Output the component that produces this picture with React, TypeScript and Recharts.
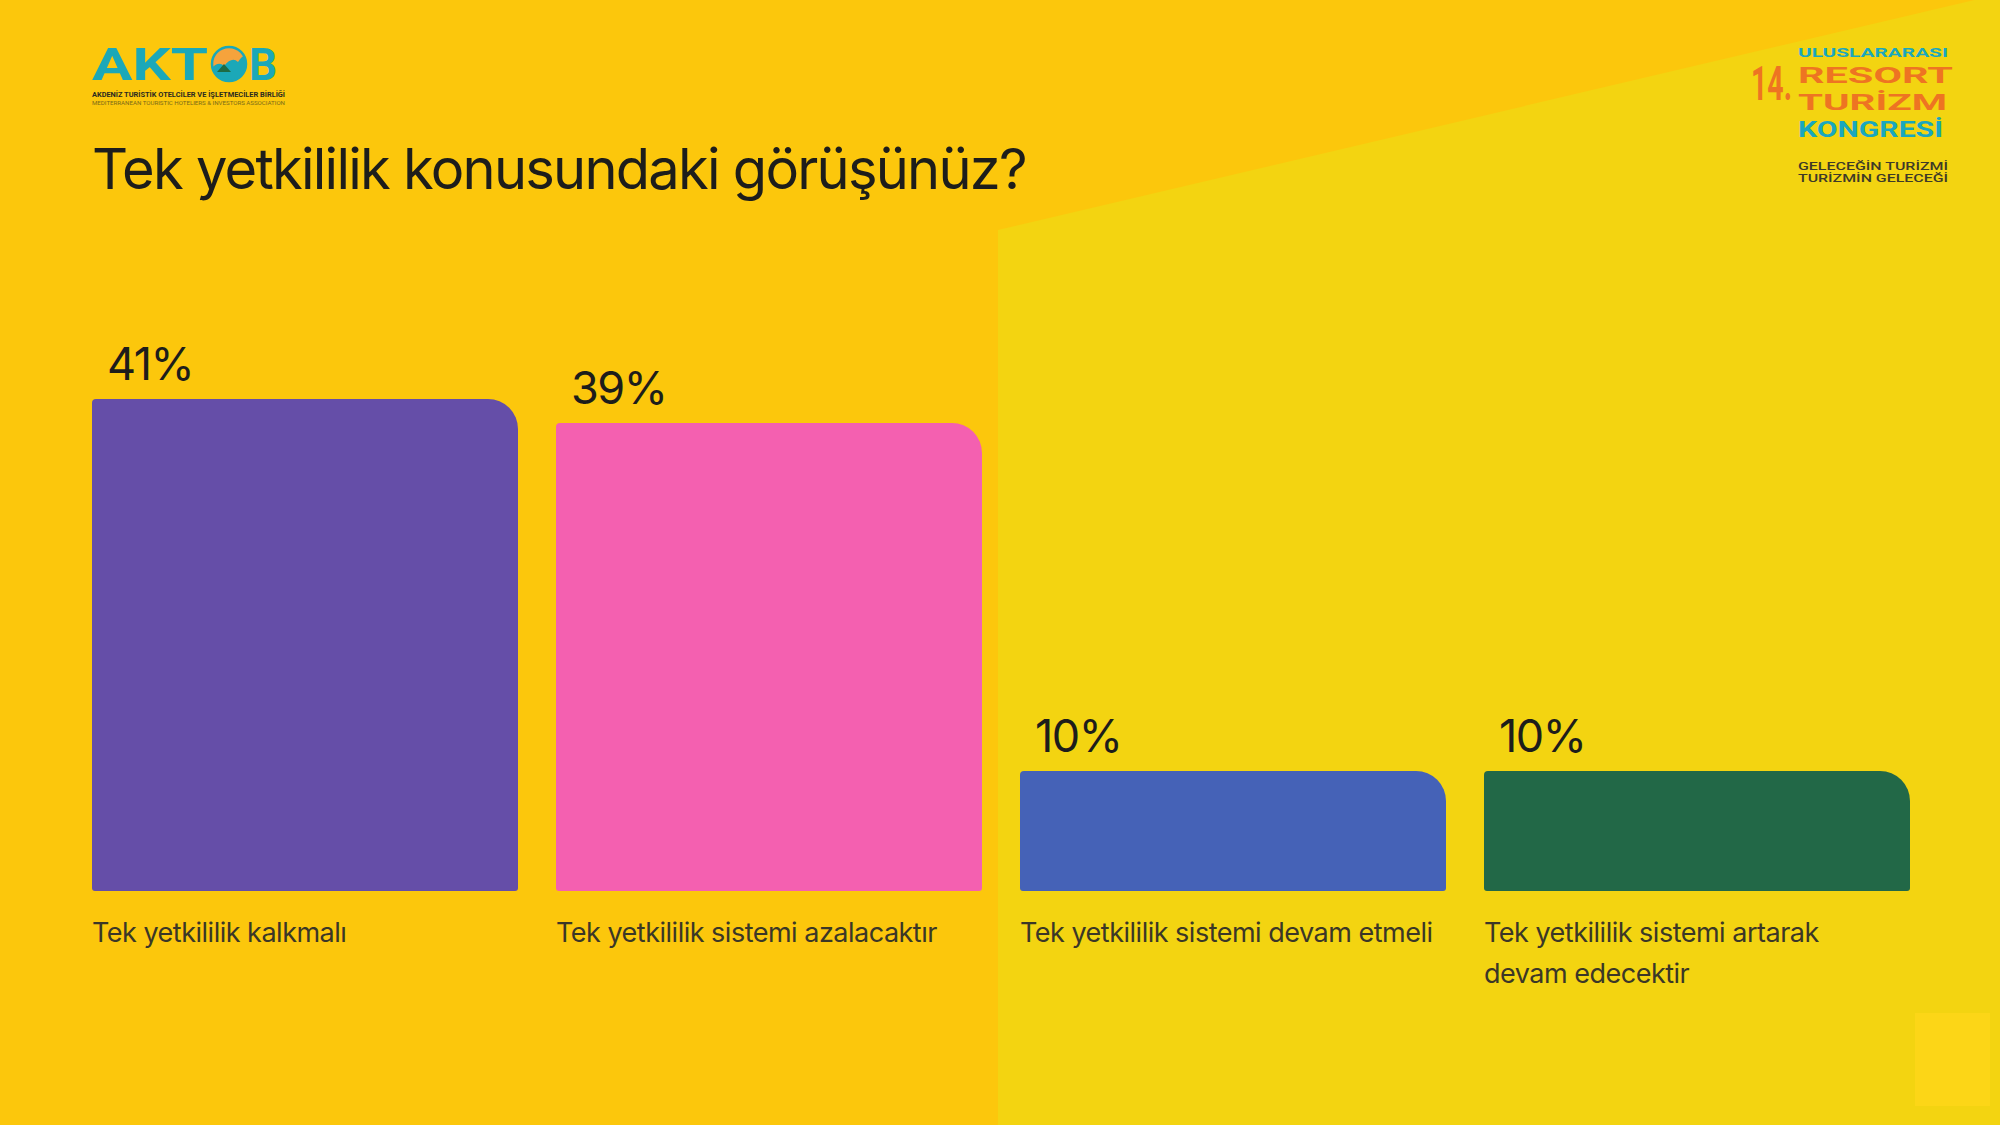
import React from "react";
import { BarChart, Bar, XAxis, YAxis, Cell, LabelList } from "recharts";

const categories = [
  "Tek yetkililik kalkmalı",
  "Tek yetkililik sistemi azalacaktır",
  "Tek yetkililik sistemi devam etmeli",
  "Tek yetkililik sistemi artarak devam edecektir",
];
const percentValues = [41, 39, 10, 10];
const barColors = ["#654EA8", "#F460B0", "#4562B7", "#226847"];
const titleText = "Tek yetkililik konusundaki görüşünüz?";

const data = categories.map((name, i) => ({ name, value: percentValues[i] }));

const W = 2000;
const H = 1125;
const BAR_SIZE = 426;
const FONT = "Inter, 'Noto Sans', sans-serif";
const LOGO_FONT = "Roboto, sans-serif";

function wrapWords(text: string, maxChars: number): string[] {
  const words = text.split(" ");
  const lines: string[] = [];
  let cur = "";
  for (const w of words) {
    const next = cur ? cur + " " + w : w;
    if (next.length > maxChars && cur) {
      lines.push(cur);
      cur = w;
    } else {
      cur = next;
    }
  }
  if (cur) lines.push(cur);
  return lines;
}

const CategoryTick = (props: any) => {
  const { x, y, payload } = props;
  const lines = wrapWords(String(payload.value), 35);
  return (
    <g>
      {lines.map((ln, i) => (
        <text
          key={i}
          x={x - BAR_SIZE / 2}
          y={y + 43 + i * 41}
          fill="#3b3727"
          fontFamily={FONT}
          fontSize={27}
          letterSpacing={-0.5}
          textAnchor="start"
        >
          {ln}
        </text>
      ))}
    </g>
  );
};

const PercentLabel = (props: any) => {
  const { x, y, value } = props;
  return (
    <text
      x={Number(x) + 15}
      y={Number(y) - 19}
      fill="#1d1d1b"
      fontFamily={FONT}
      fontSize={45}
      letterSpacing={-1.5}
      textAnchor="start"
    >
      {value}%
    </text>
  );
};

const Decor = () => (
  <svg width={W} height={H} style={{ position: "absolute", left: 0, top: 0 }}>
    <rect x={0} y={0} width={W} height={H} fill="#FCC70C" />
    <polygon points="998,230 2000,-6 2000,1125 998,1125" fill="#F3D411" />
    <rect x={1915} y={1013} width={75} height={93} fill="#FCD617" />
    {/* AKTOB logo */}
    <clipPath id="oclip">
      <circle cx={229} cy={64} r={17} />
    </clipPath>
    <circle cx={229} cy={64} r={17} fill="#F6A33C" />
    <path d="M210,70 Q218,60 224,66 Q232,56 238,62 Q243,54 248,56 L248,90 L210,90 Z" fill="#1BA8B8" clipPath="url(#oclip)" />
    <path d="M217,72 L224,64 L231,72 Z" fill="#1E6B45" clipPath="url(#oclip)" />
    <circle cx={229} cy={64} r={17} fill="none" stroke="#1BA8B8" strokeWidth={2.5} />
    <text fontFamily={LOGO_FONT} fontWeight={700}>
      <tspan x={92} y={80} fontSize={44} fill="#1BA8B8" textLength={116} lengthAdjust="spacingAndGlyphs">AKT</tspan>
      <tspan x={249} y={80} fontSize={44} fill="#1BA8B8">B</tspan>
      <tspan x={92} y={96.5} fontSize={7} fill="#2b2a20" textLength={193} lengthAdjust="spacingAndGlyphs">AKDENİZ TURİSTİK OTELCİLER VE İŞLETMECİLER BİRLİĞİ</tspan>
      <tspan x={92} y={104.5} fontSize={6} fontWeight={400} fill="#7a6a1a" textLength={193} lengthAdjust="spacingAndGlyphs">MEDITERRANEAN TOURISTIC HOTELIERS &amp; INVESTORS ASSOCIATION</tspan>
    </text>
    {/* Congress logo */}
    <text
      transform="translate(1751,100) scale(1,1.5)"
      x={0}
      y={0}
      fontFamily={LOGO_FONT}
      fontWeight={700}
      fontSize={32}
      fill="#EE7422"
      textLength={41}
      lengthAdjust="spacingAndGlyphs"
    >
      14.
    </text>
    <text fontFamily={LOGO_FONT} fontWeight={700}>
      <tspan x={1798} y={57} fontSize={12} fill="#1AA7BE" textLength={150} lengthAdjust="spacingAndGlyphs">ULUSLARARASI</tspan>
      <tspan x={1798} y={82.5} fontSize={22.5} fill="#EE7422" textLength={155} lengthAdjust="spacingAndGlyphs">RESORT</tspan>
      <tspan x={1798} y={109.5} fontSize={22.5} fill="#EE7422" textLength={149} lengthAdjust="spacingAndGlyphs">TURİZM</tspan>
      <tspan x={1798} y={136.5} fontSize={22} fill="#1AA7BE" textLength={145} lengthAdjust="spacingAndGlyphs">KONGRESİ</tspan>
      <tspan x={1798} y={169.5} fontSize={10} fontWeight={500} fill="#3e3a28" textLength={150} lengthAdjust="spacingAndGlyphs">GELECEĞİN TURİZMİ</tspan>
      <tspan x={1798} y={181.5} fontSize={10} fontWeight={500} fill="#3e3a28" textLength={150} lengthAdjust="spacingAndGlyphs">TURİZMİN GELECEĞİ</tspan>
    </text>
    {/* Title */}
    <text x={92} y={189} fontFamily={FONT} fontSize={56} fill="#1d1d1b" letterSpacing={-1.75}>{titleText}</text>
  </svg>
);

export default function App() {
  return (
    <div style={{ position: "absolute", left: 0, top: 0, width: W, height: H, overflow: "hidden" }}>
      <Decor />
      <div style={{ position: "absolute", left: 0, top: 0 }}>
        <BarChart
          width={W}
          height={H}
          data={data}
          margin={{ top: 291, right: 71, bottom: 134, left: 73 }}
        >
          <XAxis
            dataKey="name"
            axisLine={false}
            tickLine={false}
            interval={0}
            height={100}
            tick={<CategoryTick />}
          />
          <YAxis hide domain={[0, 50]} />
          <Bar dataKey="value" barSize={BAR_SIZE} radius={[4, 30, 3, 3]} isAnimationActive={false}>
            {data.map((d, i) => (
              <Cell key={d.name} fill={barColors[i]} />
            ))}
            <LabelList dataKey="value" content={<PercentLabel />} />
          </Bar>
        </BarChart>
      </div>
    </div>
  );
}
